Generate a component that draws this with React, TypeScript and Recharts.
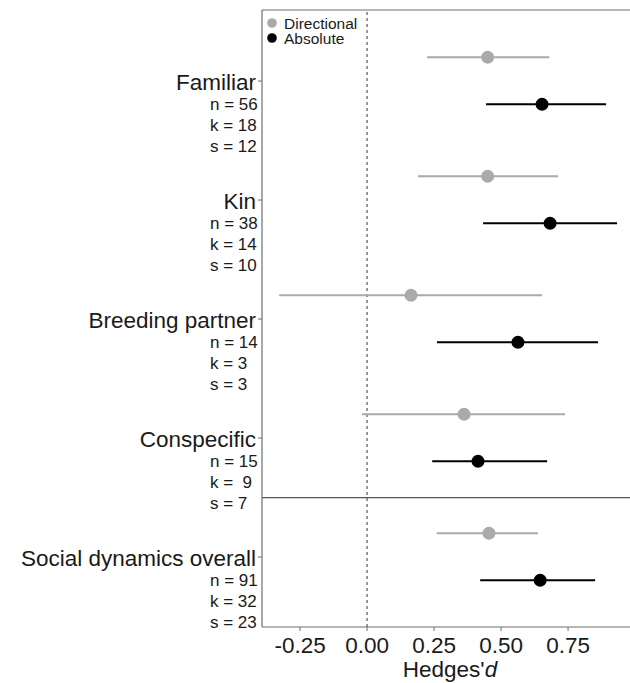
import React from 'react';
import { ComposedChart, Scatter, XAxis, YAxis, ReferenceLine, ErrorBar, Legend, Label } from 'recharts';

const FONT = '"Liberation Sans", Arial, Helvetica, sans-serif';
const TEXT = '#1a1a1a';
const AXIS = '#6e6e6e';

const categories = ['Familiar', 'Kin', 'Breeding partner', 'Conspecific', 'Social dynamics overall'];
const nLabels = ['n = 56', 'n = 38', 'n = 14', 'n = 15', 'n = 91'];
const kLabels = ['k = 18', 'k = 14', 'k = 3', 'k =  9', 'k = 32'];
const sLabels = ['s = 12', 's = 10', 's = 3', 's = 7', 's = 23'];

const seriesNames = ['Directional', 'Absolute'];
const seriesColors = ['#aaaaaa', '#000000'];

const dirEst = [0.45, 0.45, 0.164, 0.362, 0.455];
const dirLo = [0.224, 0.19, -0.328, -0.019, 0.26];
const dirHi = [0.68, 0.713, 0.653, 0.739, 0.638];

const absEst = [0.653, 0.683, 0.563, 0.414, 0.646];
const absLo = [0.444, 0.433, 0.261, 0.243, 0.422];
const absHi = [0.892, 0.933, 0.862, 0.672, 0.851];

const xTicks = [-0.25, 0, 0.25, 0.5, 0.75];
const X_DOMAIN: [number, number] = [-0.392, 1.011];
const Y_DOMAIN: [number, number] = [-0.588, 4.597];
const DIR_DODGE = 0.2;
const ABS_DODGE = -0.195;

const nRows = categories.length;
const rowY = (i: number) => nRows - 1 - i;

const dirData = categories.map((c, i) => ({
  name: c,
  x: dirEst[i],
  y: rowY(i) + DIR_DODGE,
  err: [dirEst[i] - dirLo[i], dirHi[i] - dirEst[i]],
}));
const absData = categories.map((c, i) => ({
  name: c,
  x: absEst[i],
  y: rowY(i) + ABS_DODGE,
  err: [absEst[i] - absLo[i], absHi[i] - absEst[i]],
}));

const YTick = (props: any) => {
  const { x, y, payload } = props;
  const idx = nRows - 1 - Math.round(payload.value);
  if (idx < 0 || idx >= nRows) return null;
  const sub = { fontSize: 17, fill: TEXT, fontFamily: FONT, whiteSpace: 'pre' as const };
  return (
    <g>
      <text x={x} y={y + 9} textAnchor="end" fontSize={22.5} fill={TEXT} fontFamily={FONT}>
        {categories[idx]}
      </text>
      <text x={x - 46} y={y + 29} style={sub} fontSize={17} fill={TEXT} fontFamily={FONT}>{nLabels[idx]}</text>
      <text x={x - 46} y={y + 50} style={sub} fontSize={17} fill={TEXT} fontFamily={FONT}>{kLabels[idx]}</text>
      <text x={x - 46} y={y + 71} style={sub} fontSize={17} fill={TEXT} fontFamily={FONT}>{sLabels[idx]}</text>
    </g>
  );
};

const makeDot = (color: string) => (props: any) => (
  <circle cx={props.cx} cy={props.cy} r={6.5} fill={color} />
);

const renderXLabel = (props: any) => {
  const vb = props.viewBox || {};
  return (
    <text x={vb.x + vb.width / 2} y={vb.y + 50} textAnchor="middle" fontSize={22.5} fill={TEXT} fontFamily={FONT}>
      <tspan>Hedges'</tspan>
      <tspan fontStyle="italic">d</tspan>
    </text>
  );
};

const renderLegend = () => (
  <svg width={120} height={40} style={{ display: 'block' }}>
    {seriesNames.map((s, i) => (
      <g key={s}>
        <circle cx={10} cy={13 + i * 15} r={4.8} fill={seriesColors[i]} />
        <text x={22} y={19 + i * 15} fontSize={15.5} fill={TEXT} fontFamily={FONT}>{s}</text>
      </g>
    ))}
  </svg>
);

export default function App() {
  return (
    <div style={{ position: 'fixed', left: 0, top: 0, width: 630, height: 683, overflow: 'hidden', background: '#fff' }}>
      <ComposedChart width={640} height={683} margin={{ top: 10, right: 2, bottom: 0, left: 0 }}>
        <XAxis
          type="number"
          dataKey="x"
          domain={X_DOMAIN}
          allowDataOverflow
          ticks={xTicks}
          tickFormatter={(v: number) => v.toFixed(2)}
          tick={{ fontSize: 22.5, fill: TEXT, fontFamily: FONT }}
          tickSize={4}
          tickMargin={6}
          height={56}
          axisLine={{ stroke: AXIS, strokeWidth: 1.2 }}
          tickLine={{ stroke: AXIS }}
        >
          <Label content={renderXLabel} />
        </XAxis>
        <YAxis
          type="number"
          dataKey="y"
          domain={Y_DOMAIN}
          allowDataOverflow
          ticks={[0, 1, 2, 3, 4]}
          width={262}
          tick={<YTick />}
          tickSize={4}
          tickMargin={2}
          axisLine={{ stroke: AXIS, strokeWidth: 1.2 }}
          tickLine={{ stroke: AXIS }}
        />
        <ReferenceLine y={Y_DOMAIN[1]} stroke={AXIS} strokeWidth={1.2} ifOverflow="visible" />
        <ReferenceLine x={0} stroke="#333" strokeDasharray="3 3" strokeWidth={1} />
        <ReferenceLine y={0.5} stroke="#555" strokeWidth={1.3} />
        <Legend
          layout="vertical"
          align="center"
          verticalAlign="middle"
          wrapperStyle={{ top: 10, left: 262, width: 120, height: 40 }}
          content={renderLegend}
        />
        <Scatter name={seriesNames[0]} data={dirData} fill={seriesColors[0]} shape={makeDot(seriesColors[0])} isAnimationActive={false}>
          <ErrorBar dataKey="err" direction="x" width={0} stroke={seriesColors[0]} strokeWidth={2} />
        </Scatter>
        <Scatter name={seriesNames[1]} data={absData} fill={seriesColors[1]} shape={makeDot(seriesColors[1])} isAnimationActive={false}>
          <ErrorBar dataKey="err" direction="x" width={0} stroke={seriesColors[1]} strokeWidth={2} />
        </Scatter>
      </ComposedChart>
    </div>
  );
}
